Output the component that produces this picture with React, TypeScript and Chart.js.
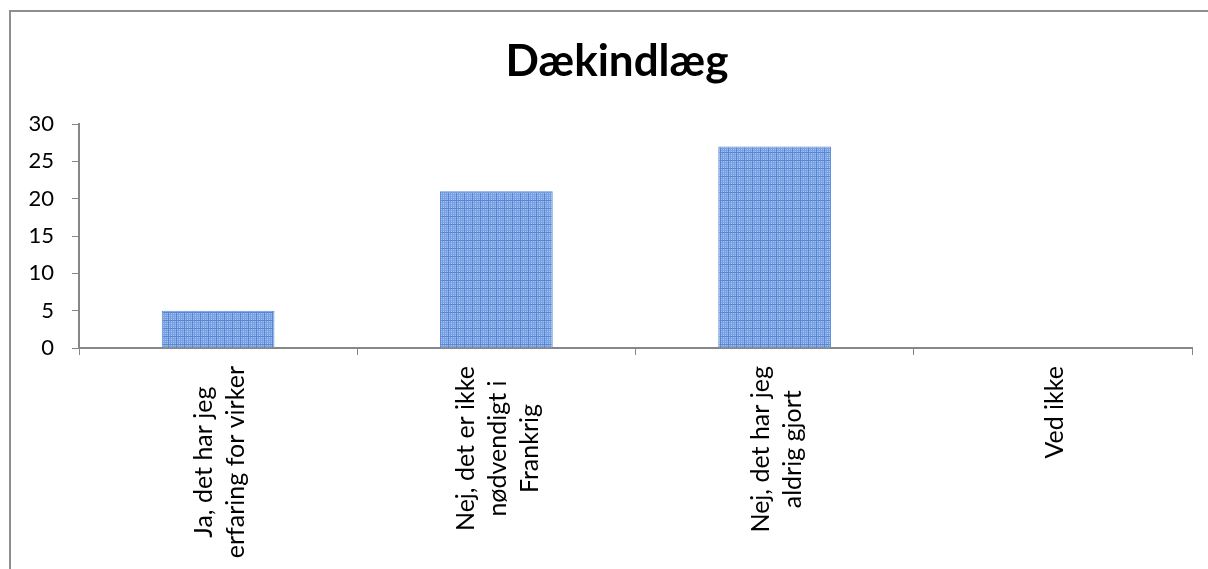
import React, { useEffect, useRef } from "react";
import { Chart, registerables } from "chart.js";

Chart.register(...registerables);

const TITLE = "Dækindlæg";
const categories: string[][] = [
  ["Ja, det har jeg", "erfaring for virker"],
  ["Nej, det er ikke", "nødvendigt i", "Frankrig"],
  ["Nej, det har jeg", "aldrig gjort"],
  ["Ved ikke"],
];
const values = [5, 21, 27, 0];
const yMin = 0;
const yMax = 30;
const yStep = 5;

const FONT = "Lato, 'Liberation Sans', sans-serif";
const AXIS_COLOR = "#878787";
// Excel-style chart frame spans from x=9 to beyond the window; title centred on it
const TITLE_CENTER_X = 617;
const TITLE_CENTER_Y = 62;

function makePattern(): CanvasPattern | string {
  const c = document.createElement("canvas");
  c.width = 8;
  c.height = 8;
  const g = c.getContext("2d");
  if (!g) return "#7ea6e3";
  g.fillStyle = "#a2c0f0";
  g.fillRect(0, 0, 8, 8);
  g.fillStyle = "#78a1e4";
  for (let i = 0; i < 8; i += 2) {
    g.fillRect(i, 0, 1, 8);
    g.fillRect(0, i, 8, 1);
  }
  g.fillStyle = "#5886d6";
  g.fillRect(0, 0, 1, 8);
  g.fillRect(0, 0, 8, 1);
  const p = g.createPattern(c, "repeat");
  return p || "#7ea6e3";
}

const textPlugin = {
  id: "textPlugin",
  afterDraw(chart: any) {
    const xs = chart.scales.x;
    const ctx = chart.ctx as CanvasRenderingContext2D;
    ctx.save();
    // title
    ctx.font = `bold 44px ${FONT}`;
    ctx.fillStyle = "#000";
    ctx.textAlign = "center";
    ctx.textBaseline = "middle";
    ctx.fillText(TITLE, TITLE_CENTER_X, TITLE_CENTER_Y);
    // rotated category labels
    ctx.font = `25px ${FONT}`;
    const lh = 32;
    categories.forEach((lines, i) => {
      const x0 = xs.getPixelForTick(i);
      const maxW = Math.max(...lines.map((l) => ctx.measureText(l).width));
      const cy = xs.bottom + 11 + maxW / 2;
      ctx.save();
      ctx.translate(x0 + 2, cy);
      ctx.rotate(-Math.PI / 2);
      const n = lines.length;
      lines.forEach((line, j) => {
        ctx.fillText(line, 0, (j - (n - 1) / 2) * lh);
      });
      ctx.restore();
    });
    ctx.restore();
  },
};

const PAD_LEFT = 20;
const AXIS_X = 79;

export default function App() {
  const ref = useRef<HTMLCanvasElement | null>(null);
  useEffect(() => {
    if (!ref.current) return;
    const pattern = makePattern();
    const chart = new Chart(ref.current, {
      type: "bar",
      data: {
        labels: categories.map((c) => c.join(" ")),
        datasets: [
          {
            data: values,
            backgroundColor: pattern as any,
            borderColor: "#5a8ad4",
            borderWidth: 1,
            barPercentage: 0.405,
            categoryPercentage: 1,
          },
        ],
      },
      options: {
        responsive: false,
        animation: false,
        layout: { padding: { left: PAD_LEFT, right: 16, top: 124, bottom: 214 } },
        plugins: {
          legend: { display: false },
          tooltip: { enabled: false },
          title: { display: false },
        },
        scales: {
          x: {
            z: 1,
            grid: {
              display: true,
              offset: true,
              drawOnChartArea: false,
              drawTicks: true,
              tickLength: 7,
              color: AXIS_COLOR,
              lineWidth: 1,
            },
            border: { display: true, color: AXIS_COLOR, width: 2 },
            ticks: { display: false },
          },
          y: {
            min: yMin,
            max: yMax,
            ticks: {
              stepSize: yStep,
              color: "#000",
              font: { family: FONT, size: 22 },
              padding: 18,
            },
            grid: {
              display: true,
              drawOnChartArea: false,
              drawTicks: true,
              tickLength: 7,
              color: AXIS_COLOR,
              lineWidth: 1,
            },
            border: { display: true, color: AXIS_COLOR, width: 2 },
            afterFit(scale: any) {
              scale.width = AXIS_X - PAD_LEFT;
            },
          },
        },
      },
      plugins: [textPlugin],
    });
    return () => chart.destroy();
  }, []);

  return (
    <div>
      <div
        style={{
          position: "fixed",
          left: 9,
          top: 10,
          right: 0,
          bottom: 0,
          borderTop: "2px solid #8e8e8e",
          borderLeft: "2px solid #8e8e8e",
        }}
      />
      <canvas
        ref={ref}
        width={1208}
        height={569}
        style={{ position: "fixed", left: 0, top: 0, width: 1208, height: 569 }}
      />
    </div>
  );
}
